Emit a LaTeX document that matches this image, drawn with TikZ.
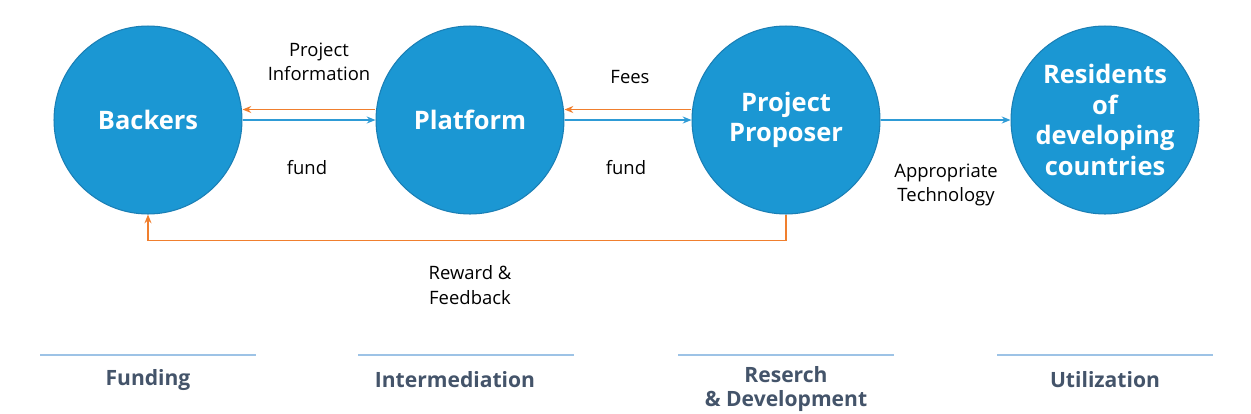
\documentclass[tikz,border=0pt]{standalone}
\usepackage{fontspec}
\setmainfont{Open Sans}
\usepackage{xcolor}
\usetikzlibrary{arrows.meta,positioning}
\definecolor{circblue}{HTML}{1B97D3}
\definecolor{circedge}{HTML}{1A7FB5}
\definecolor{flowblue}{HTML}{2E9BD6}
\definecolor{floworange}{HTML}{F07F2E}
\definecolor{stageline}{HTML}{9DC3E6}
\definecolor{stagetext}{HTML}{44546A}

\begin{document}
\begin{tikzpicture}[x=0.02cm, y=-0.02cm,
    actor/.style={circle, draw=circedge, fill=circblue, line width=0.6pt,
                minimum size=3.76cm, inner sep=0pt, text=white,
                font=\fontsize{14.5}{17.5}\selectfont\bfseries, align=center},
    lbl/.style={font=\fontsize{10.5}{14}\selectfont, align=center},
    stage/.style={font=\fontsize{12}{14}\selectfont\bfseries, text=stagetext, align=center},
    bluearrow/.style={draw=flowblue, line width=0.7pt, -{Stealth[length=5pt,width=4pt]}},
    orangearrow/.style={draw=floworange, line width=0.7pt, -{Stealth[length=5pt,width=4pt]}},
    stagebar/.style={draw=stageline, line width=0.6pt},
]
\useasboundingbox (0,0) rectangle (1251,413);

% actors
\node[actor] (backers) at (148,120) {Backers};
\node[actor] (platform) at (470,120) {Platform};
\node[actor] (proposer) at (786,120) {Project\\Proposer};
\node[actor] (residents) at (1105,120) {Residents\\of\\developing\\countries};

% flows between actors
\draw[orangearrow] ([yshift=0.21cm]platform.west) -- ([yshift=0.21cm]backers.east);
\draw[bluearrow] (backers.east) -- (platform.west);
\draw[orangearrow] ([yshift=0.21cm]proposer.west) -- ([yshift=0.21cm]platform.east);
\draw[bluearrow] (platform.east) -- (proposer.west);
\draw[bluearrow] (proposer.east) -- (residents.west);
\draw[orangearrow] (proposer.south) -- ++(0,26) -| (backers.south);

% flow labels
\node[lbl] (info) at (319,62) {Project\\Information};
\node[lbl] (fund1) at (307,168) {fund};
\node[lbl] (fees) at (630,77) {Fees};
\node[lbl] (fund2) at (626,168) {fund};
\node[lbl] (tech) at (946,185) {Appropriate\\Technology};
\node[lbl] (reward) at (470,285) {Reward \&\\Feedback};

% stages
\foreach \cx/\name in {148/funding, 466/intermed, 786/rnd, 1105/util}
    \draw[stagebar] (\cx-108,355) -- (\cx+108,355);
\node[stage] (funding) at (148,380) {Funding};
\node[stage] (intermed) at (455,380) {Intermediation};
\node[stage] (rnd) at (786,389) {Reserch\\\& Development};
\node[stage] (util) at (1105,380) {Utilization};

\end{tikzpicture}
\end{document}
